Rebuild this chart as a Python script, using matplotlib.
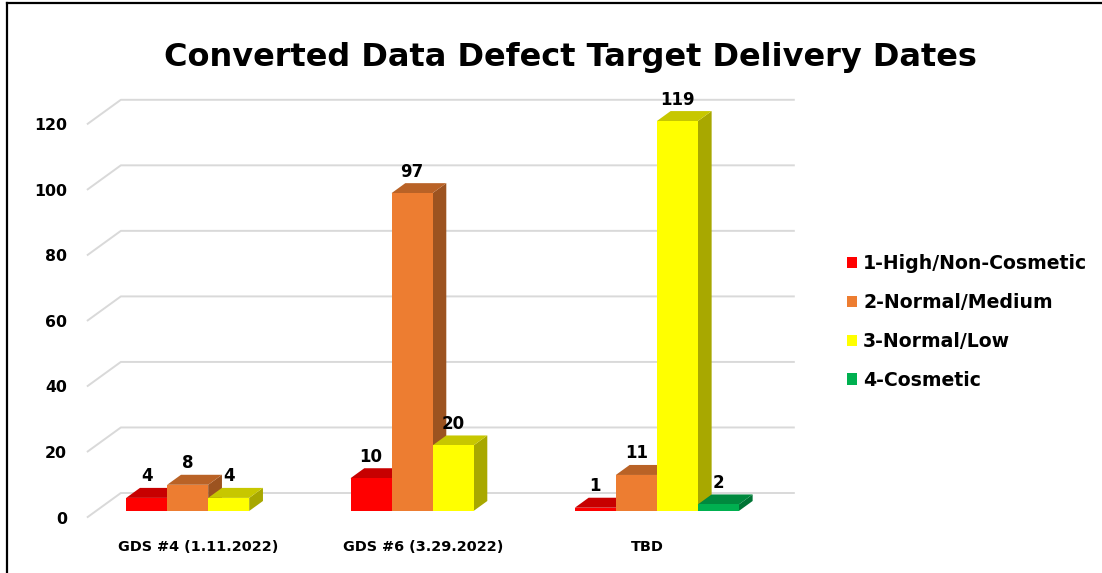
import numpy as np
import matplotlib.pyplot as plt
from matplotlib.colors import to_rgb
from matplotlib.lines import Line2D
from matplotlib.patches import Patch, Polygon

categories = ["GDS #4 (1.11.2022)", "GDS #6 (3.29.2022)", "TBD"]
series = ["1-High/Non-Cosmetic", "2-Normal/Medium", "3-Normal/Low", "4-Cosmetic"]
high = [4, 10, 1]
medium = [8, 97, 11]
low = [4, 20, 119]
cosmetic = [0, 0, 2]
colors = ["#FF0000", "#ED7D31", "#FFFF00", "#00B050"]
yticks = [0, 20, 40, 60, 80, 100, 120]

W, H = 1102, 573
fig = plt.figure(figsize=(W / 100, H / 100), dpi=100)

# axes = the front plane of the bars
ax_px = (96, 62, 673, 393.2)
ax = fig.add_axes([ax_px[0] / W, ax_px[1] / H, ax_px[2] / W, ax_px[3] / H])
ax.set_xlim(-0.5, len(categories) - 0.5)
ax.set_ylim(0, 120)
ax.axis("off")

px_x = ax_px[2] / len(categories)
px_y = ax_px[3] / 120


def shift(d):
    """depth offset (in px into the screen) -> data units"""
    return d * 1.38 / px_x, d / px_y


label_font = "DejaVu Sans"
title_font = "DejaVu Sans"

# slanted gridlines: front axis plane -> back wall
fx, fy = shift(-6)
bx, by = shift(18)
x_left, x_right = ax.get_xlim()
for v in yticks:
    ax.plot([x_left + fx, x_left + bx, x_right + bx], [v + fy, v + by, v + by],
            color="#d9d9d9", lw=1.4, zorder=0, clip_on=False)
    ax.annotate(str(v), xy=(x_left, v), xytext=(-21, -5.8), textcoords="offset points",
                ha="right", va="center", fontsize=11.3, fontweight="bold",
                family=label_font, color="#000000")

# 3d-ish clustered columns
values = [high, medium, low, cosmetic]
w = 41 / px_x
dx, dy = shift(10)
z = 1
for ci in range(len(categories)):
    for si, vals in enumerate(values):
        v = vals[ci]
        if v == 0:
            continue
        x0 = ci - 2 * w + si * w
        x1 = x0 + w
        base = np.array(to_rgb(colors[si]))
        front = Polygon([(x0, 0), (x1, 0), (x1, v), (x0, v)], closed=True,
                        facecolor=base, edgecolor="none", zorder=z, clip_on=False)
        top = Polygon([(x0, v), (x1, v), (x1 + dx, v + dy), (x0 + dx, v + dy)], closed=True,
                      facecolor=base * 0.78, edgecolor="none", zorder=z, clip_on=False)
        side = Polygon([(x1, 0), (x1 + dx, dy), (x1 + dx, v + dy), (x1, v)], closed=True,
                       facecolor=base * 0.66, edgecolor="none", zorder=z, clip_on=False)
        for p in (side, top, front):
            ax.add_patch(p)
        z += 1
        ax.annotate(str(v), xy=((x0 + x1) / 2, v), xytext=(0, 15.5), textcoords="offset points",
                    ha="center", va="center", fontsize=12, fontweight="bold",
                    family=label_font, color="#000000", zorder=100)

for ci, cat in enumerate(categories):
    ax.annotate(cat, xy=(ci, 0), xytext=(-7, -26), textcoords="offset points",
                ha="center", va="center", fontsize=10.4, fontweight="bold",
                family=label_font, color="#000000")

fig.text(0.518, 0.899, "Converted Data Defect Target Delivery Dates", ha="center", va="center",
         fontsize=23, fontweight="bold", family=title_font, color="#000000")

handles = [Patch(facecolor=c, edgecolor="none") for c in colors]
fig.legend(handles, series, loc="center left", bbox_to_anchor=(847 / W, 1 - 322 / H),
           frameon=False, prop={"family": title_font, "weight": "bold", "size": 13.6},
           handlelength=0.55, handleheight=0.55, handletextpad=0.3, labelspacing=1.05,
           borderaxespad=0, borderpad=0)

# outer frame (left and top)
fig.add_artist(Line2D([7 / W, 7 / W], [0, 1 - 3 / H], color="black", lw=1.6))
fig.add_artist(Line2D([7 / W, 1], [1 - 3 / H, 1 - 3 / H], color="black", lw=1.6))

fig.savefig("out.png", dpi=100)
